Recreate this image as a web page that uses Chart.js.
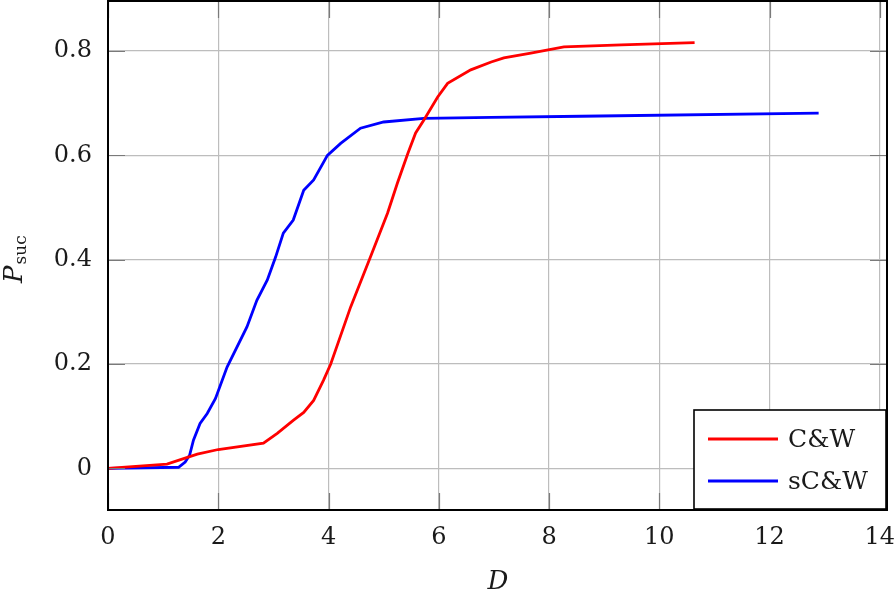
<!DOCTYPE html>
<html>
<head>
<meta charset="utf-8">
<script src="https://cdn.jsdelivr.net/npm/chart.js@4.4.1/dist/chart.umd.min.js"></script>
<style>
	html, body { margin: 0; padding: 0; background: #ffffff; }
	#container { width: 895px; height: 591px; }
</style>
</head>
<body>
<div id="container"><canvas id="chart" width="895" height="591"></canvas></div>
<script>
// C&W curve
const cwD = [0, 1.07, 1.44, 1.62, 2.0, 2.82, 3.07, 3.36, 3.55, 3.73, 3.91, 4.04, 4.4, 4.76, 5.07, 5.25, 5.44, 5.58, 5.73, 5.98, 6.16, 6.58, 6.95, 7.18, 7.67, 8.27, 9.31, 10.64];
const cwP = [0, 0.008, 0.021, 0.027, 0.036, 0.048, 0.067, 0.092, 0.107, 0.13, 0.169, 0.2, 0.309, 0.405, 0.489, 0.547, 0.604, 0.643, 0.668, 0.712, 0.738, 0.764, 0.779, 0.787, 0.796, 0.808, 0.812, 0.816];

// sC&W curve
const scwD = [0, 1.28, 1.4, 1.48, 1.55, 1.67, 1.8, 1.95, 2.16, 2.52, 2.7, 2.89, 3.04, 3.18, 3.36, 3.55, 3.73, 3.98, 4.22, 4.58, 5.0, 5.73, 6.95, 8.58, 12.89];
const scwP = [0, 0.002, 0.012, 0.025, 0.054, 0.086, 0.105, 0.134, 0.194, 0.271, 0.322, 0.361, 0.405, 0.451, 0.476, 0.533, 0.553, 0.6, 0.623, 0.652, 0.664, 0.671, 0.673, 0.675, 0.681];

const seriesLabels = ["C&W", "sC&W"];
const seriesColors = ["#ff0000", "#0000ff"];

const xTicks = [0, 2, 4, 6, 8, 10, 12, 14];
const yTicks = [0, 0.2, 0.4, 0.6, 0.8];

const FONT = "'DejaVu Serif', 'Liberation Serif', serif";

function toPoints(xs, ys) {
	return xs.map((x, i) => ({ x: x, y: ys[i] }));
}

// pgfplots style frame: box, inner tick marks, legend and axis titles
const framePlugin = {
	id: "frame",
	afterDatasetsDraw(chart) {
		const ctx = chart.ctx;
		const area = chart.chartArea;
		const xs = chart.scales.x;
		const ys = chart.scales.y;
		ctx.save();

		// inner tick marks on all four sides
		ctx.strokeStyle = "#7a7a7a";
		ctx.lineWidth = 1.2;
		const len = 17;
		xTicks.forEach((v) => {
			const px = Math.round(xs.getPixelForValue(v)) + 0.5;
			ctx.beginPath();
			ctx.moveTo(px, area.bottom);
			ctx.lineTo(px, area.bottom - len);
			ctx.moveTo(px, area.top);
			ctx.lineTo(px, area.top + len);
			ctx.stroke();
		});
		yTicks.forEach((v) => {
			const py = Math.round(ys.getPixelForValue(v)) + 0.5;
			ctx.beginPath();
			ctx.moveTo(area.left, py);
			ctx.lineTo(area.left + len, py);
			ctx.moveTo(area.right, py);
			ctx.lineTo(area.right - len, py);
			ctx.stroke();
		});

		// legend box
		const lx = 694, ly = 410, lw = 192, lh = 99;
		ctx.fillStyle = "#ffffff";
		ctx.fillRect(lx, ly, lw, lh);
		ctx.strokeStyle = "#000000";
		ctx.lineWidth = 1.6;
		ctx.strokeRect(lx, ly, lw, lh);
		ctx.font = "25px " + FONT;
		ctx.textAlign = "left";
		ctx.textBaseline = "alphabetic";
		chart.data.datasets.forEach((ds, i) => {
			const cy = 439 + i * 42;
			ctx.strokeStyle = ds.borderColor;
			ctx.lineWidth = 2.8;
			ctx.beginPath();
			ctx.moveTo(708, cy);
			ctx.lineTo(778, cy);
			ctx.stroke();
			ctx.fillStyle = "#1a1a1a";
			ctx.fillText(ds.label, 788, cy + 8);
		});

		// outer box
		ctx.strokeStyle = "#000000";
		ctx.lineWidth = 2;
		ctx.strokeRect(area.left, area.top, area.right - area.left, area.bottom - area.top);

		// x axis title
		ctx.fillStyle = "#1a1a1a";
		ctx.font = "italic 26px " + FONT;
		ctx.textAlign = "center";
		ctx.fillText("D", 498, 589);

		// y axis title P_suc
		ctx.translate(22, 283);
		ctx.rotate(-Math.PI / 2);
		ctx.textAlign = "left";
		ctx.font = "italic 26px " + FONT;
		ctx.fillText("P", 0, 0);
		const w = ctx.measureText("P").width;
		ctx.font = "17px " + FONT;
		ctx.fillText("suc", w + 1, 4);
		ctx.restore();
	},
};

const canvas = document.getElementById("chart");
new Chart(canvas.getContext("2d"), {
	type: "line",
	data: {
		datasets: [
			{
				label: seriesLabels[0],
				data: toPoints(cwD, cwP),
				borderColor: seriesColors[0],
				borderWidth: 2.8,
				pointRadius: 0,
				tension: 0,
				fill: false,
			},
			{
				label: seriesLabels[1],
				data: toPoints(scwD, scwP),
				borderColor: seriesColors[1],
				borderWidth: 2.8,
				pointRadius: 0,
				tension: 0,
				fill: false,
			},
		],
	},
	options: {
		responsive: false,
		animation: false,
		layout: { padding: { top: 1, right: 8, left: 0, bottom: 0 } },
		plugins: {
			legend: { display: false },
			tooltip: { enabled: false },
		},
		scales: {
			x: {
				type: "linear",
				min: 0,
				max: 14.13,
				afterFit: (scale) => {
					scale.height = 81;
					scale.paddingLeft = 0;
					scale.paddingRight = 0;
				},
				afterBuildTicks: (scale) => { scale.ticks = xTicks.map((v) => ({ value: v })); },
				grid: { color: "#bdbdbd", lineWidth: 1.2, drawTicks: false },
				border: { display: false },
				ticks: {
					color: "#1a1a1a",
					padding: 13,
					maxRotation: 0,
					font: { family: FONT, size: 24 },
					callback: (v) => String(v),
				},
			},
			y: {
				type: "linear",
				min: -0.08,
				max: 0.896,
				afterFit: (scale) => {
					scale.width = 108;
					scale.paddingTop = 0;
					scale.paddingBottom = 0;
				},
				afterBuildTicks: (scale) => { scale.ticks = yTicks.map((v) => ({ value: v })); },
				grid: { color: "#bdbdbd", lineWidth: 1.2, drawTicks: false },
				border: { display: false },
				ticks: {
					color: "#1a1a1a",
					padding: 16,
					font: { family: FONT, size: 24 },
					callback: (v) => (v === 0 ? "0" : v.toFixed(1)),
				},
			},
		},
	},
	plugins: [framePlugin],
});
</script>
</body>
</html>
